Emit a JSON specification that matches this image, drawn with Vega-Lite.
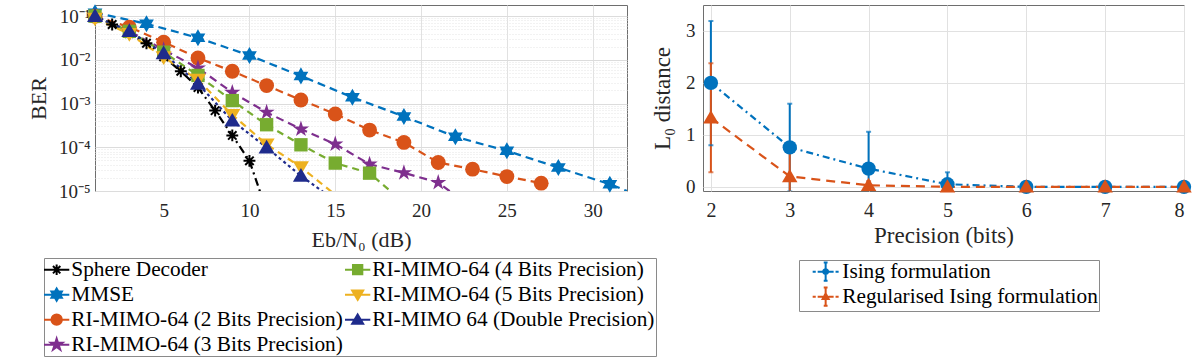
{
  "$schema": "https://vega.github.io/schema/vega-lite/v6.json",
  "autosize": {"type": "pad"},
  "padding": {"left": 26, "top": 3, "right": 0, "bottom": 0},
  "background": "white",
  "config": {
    "font": "Liberation Serif",
    "view": {"stroke": "#6e6e6e", "strokeWidth": 1},
    "axis": {"labelFont": "Liberation Serif", "titleFont": "Liberation Serif", "labelFontSize": 19, "titleFontSize": 22, "labelColor": "#262626", "titleColor": "#262626", "titleFontWeight": "normal", "domain": false, "ticks": false, "gridColor": "#e1e1e1", "gridWidth": 1},
    "legend": {"labelFont": "Liberation Serif", "labelFontSize": 21.3, "labelColor": "#000000", "strokeColor": "#8a8a8a", "fillColor": "#ffffff", "padding": 1, "labelLimit": 500, "rowPadding": 3, "columnPadding": -2, "symbolOffset": 1, "labelOffset": 4, "symbolSize": 121, "symbolStrokeWidth": 2}
  },
  "bounds": "flush",
  "spacing": 76,
  "resolve": {"scale": {"color": "independent", "shape": "independent", "strokeDash": "independent", "stroke": "independent"}},
  "hconcat": [
    {
      "width": 532,
      "height": 186,
      "resolve": {"scale": {"color": "independent", "shape": "independent", "stroke": "independent"}},
      "data": {"values": [
        {"s": "Sphere Decoder", "snr": 1, "ber": 0.1},
        {"s": "Sphere Decoder", "snr": 2, "ber": 0.0646},
        {"s": "Sphere Decoder", "snr": 3, "ber": 0.040},
        {"s": "Sphere Decoder", "snr": 4, "ber": 0.024},
        {"s": "Sphere Decoder", "snr": 5, "ber": 0.0118},
        {"s": "Sphere Decoder", "snr": 6, "ber": 0.00548},
        {"s": "Sphere Decoder", "snr": 7, "ber": 0.00232},
        {"s": "Sphere Decoder", "snr": 8, "ber": 0.00069},
        {"s": "Sphere Decoder", "snr": 9, "ber": 0.000187},
        {"s": "Sphere Decoder", "snr": 10, "ber": 0.000049},
        {"s": "Sphere Decoder", "snr": 11, "ber": 0.0000035},
        {"s": "MMSE", "snr": 1, "ber": 0.12},
        {"s": "MMSE", "snr": 4, "ber": 0.067},
        {"s": "MMSE", "snr": 7, "ber": 0.032},
        {"s": "MMSE", "snr": 10, "ber": 0.0126},
        {"s": "MMSE", "snr": 13, "ber": 0.0043},
        {"s": "MMSE", "snr": 16, "ber": 0.00139},
        {"s": "MMSE", "snr": 19, "ber": 0.000508},
        {"s": "MMSE", "snr": 22, "ber": 0.000174},
        {"s": "MMSE", "snr": 25, "ber": 0.000083},
        {"s": "MMSE", "snr": 28, "ber": 0.0000344},
        {"s": "MMSE", "snr": 31, "ber": 0.0000143},
        {"s": "MMSE", "snr": 34, "ber": 0.0000049},
        {"s": "RI-MIMO-64 (2 Bits Precision)", "snr": 1, "ber": 0.1},
        {"s": "RI-MIMO-64 (2 Bits Precision)", "snr": 3, "ber": 0.056},
        {"s": "RI-MIMO-64 (2 Bits Precision)", "snr": 5, "ber": 0.0254},
        {"s": "RI-MIMO-64 (2 Bits Precision)", "snr": 7, "ber": 0.0111},
        {"s": "RI-MIMO-64 (2 Bits Precision)", "snr": 9, "ber": 0.00548},
        {"s": "RI-MIMO-64 (2 Bits Precision)", "snr": 11, "ber": 0.00258},
        {"s": "RI-MIMO-64 (2 Bits Precision)", "snr": 13, "ber": 0.00121},
        {"s": "RI-MIMO-64 (2 Bits Precision)", "snr": 15, "ber": 0.000577},
        {"s": "RI-MIMO-64 (2 Bits Precision)", "snr": 17, "ber": 0.000248},
        {"s": "RI-MIMO-64 (2 Bits Precision)", "snr": 19, "ber": 0.000129},
        {"s": "RI-MIMO-64 (2 Bits Precision)", "snr": 21, "ber": 0.0000448},
        {"s": "RI-MIMO-64 (2 Bits Precision)", "snr": 23, "ber": 0.0000316},
        {"s": "RI-MIMO-64 (2 Bits Precision)", "snr": 25, "ber": 0.0000214},
        {"s": "RI-MIMO-64 (2 Bits Precision)", "snr": 27, "ber": 0.0000151},
        {"s": "RI-MIMO-64 (3 Bits Precision)", "snr": 1, "ber": 0.1},
        {"s": "RI-MIMO-64 (3 Bits Precision)", "snr": 3, "ber": 0.045},
        {"s": "RI-MIMO-64 (3 Bits Precision)", "snr": 5, "ber": 0.017},
        {"s": "RI-MIMO-64 (3 Bits Precision)", "snr": 7, "ber": 0.0065},
        {"s": "RI-MIMO-64 (3 Bits Precision)", "snr": 9, "ber": 0.0018},
        {"s": "RI-MIMO-64 (3 Bits Precision)", "snr": 11, "ber": 0.00063},
        {"s": "RI-MIMO-64 (3 Bits Precision)", "snr": 13, "ber": 0.00026},
        {"s": "RI-MIMO-64 (3 Bits Precision)", "snr": 15, "ber": 0.000118},
        {"s": "RI-MIMO-64 (3 Bits Precision)", "snr": 17, "ber": 0.000041},
        {"s": "RI-MIMO-64 (3 Bits Precision)", "snr": 19, "ber": 0.000026},
        {"s": "RI-MIMO-64 (3 Bits Precision)", "snr": 21, "ber": 0.0000156},
        {"s": "RI-MIMO-64 (3 Bits Precision)", "snr": 23, "ber": 0.000004},
        {"s": "RI-MIMO-64 (4 Bits Precision)", "snr": 1, "ber": 0.1},
        {"s": "RI-MIMO-64 (4 Bits Precision)", "snr": 3, "ber": 0.045},
        {"s": "RI-MIMO-64 (4 Bits Precision)", "snr": 5, "ber": 0.015},
        {"s": "RI-MIMO-64 (4 Bits Precision)", "snr": 7, "ber": 0.0044},
        {"s": "RI-MIMO-64 (4 Bits Precision)", "snr": 9, "ber": 0.00117},
        {"s": "RI-MIMO-64 (4 Bits Precision)", "snr": 11, "ber": 0.000328},
        {"s": "RI-MIMO-64 (4 Bits Precision)", "snr": 13, "ber": 0.000114},
        {"s": "RI-MIMO-64 (4 Bits Precision)", "snr": 15, "ber": 0.0000435},
        {"s": "RI-MIMO-64 (4 Bits Precision)", "snr": 17, "ber": 0.0000256},
        {"s": "RI-MIMO-64 (4 Bits Precision)", "snr": 19, "ber": 0.0000054},
        {"s": "RI-MIMO-64 (5 Bits Precision)", "snr": 1, "ber": 0.088},
        {"s": "RI-MIMO-64 (5 Bits Precision)", "snr": 3, "ber": 0.0394},
        {"s": "RI-MIMO-64 (5 Bits Precision)", "snr": 5, "ber": 0.0115},
        {"s": "RI-MIMO-64 (5 Bits Precision)", "snr": 7, "ber": 0.0035},
        {"s": "RI-MIMO-64 (5 Bits Precision)", "snr": 9, "ber": 0.00055},
        {"s": "RI-MIMO-64 (5 Bits Precision)", "snr": 11, "ber": 0.000117},
        {"s": "RI-MIMO-64 (5 Bits Precision)", "snr": 13, "ber": 0.000035},
        {"s": "RI-MIMO-64 (5 Bits Precision)", "snr": 16, "ber": 0.000004},
        {"s": "RI-MIMO 64 (Double Precision)", "snr": 1, "ber": 0.1},
        {"s": "RI-MIMO 64 (Double Precision)", "snr": 3, "ber": 0.0453},
        {"s": "RI-MIMO 64 (Double Precision)", "snr": 5, "ber": 0.0142},
        {"s": "RI-MIMO 64 (Double Precision)", "snr": 7, "ber": 0.00282},
        {"s": "RI-MIMO 64 (Double Precision)", "snr": 9, "ber": 0.000406},
        {"s": "RI-MIMO 64 (Double Precision)", "snr": 11, "ber": 0.000099},
        {"s": "RI-MIMO 64 (Double Precision)", "snr": 13, "ber": 0.0000222},
        {"s": "RI-MIMO 64 (Double Precision)", "snr": 15, "ber": 0.000006}
      ]},
      "encoding": {
        "x": {"field": "snr", "type": "quantitative", "scale": {"domain": [1, 32], "nice": false}, "axis": {"values": [5, 10, 15, 20, 25, 30], "title": "Eb/N₀ (dB)", "labelPadding": 10, "titlePadding": 9, "grid": true}},
        "y": {"field": "ber", "type": "quantitative", "scale": {"type": "log", "domain": [0.00001, 0.18], "nice": false}, "axis": {
          "title": "BER", "labelPadding": 5, "titlePadding": 8, "grid": true,
          "values": [0.00001, 0.00002, 0.00003, 0.00004, 0.00005, 0.00006, 0.00007, 0.00008, 0.00009, 0.0001, 0.0002, 0.0003, 0.0004, 0.0005, 0.0006, 0.0007, 0.0008, 0.0009, 0.001, 0.002, 0.003, 0.004, 0.005, 0.006, 0.007, 0.008, 0.009, 0.01, 0.02, 0.03, 0.04, 0.05, 0.06, 0.07, 0.08, 0.09, 0.1],
          "labelExpr": "abs(log(datum.value)/LN10 - round(log(datum.value)/LN10)) < 0.001 ? '10' + ['⁰','⁻¹','⁻²','⁻³','⁻⁴','⁻⁵'][-round(log(datum.value)/LN10)] : ''",
          "gridDash": {"condition": {"test": "abs(log(datum.value)/LN10 - round(log(datum.value)/LN10)) < 0.001", "value": []}, "value": [1, 2]},
          "gridColor": {"condition": {"test": "abs(log(datum.value)/LN10 - round(log(datum.value)/LN10)) < 0.001", "value": "#dcdcdc"}, "value": "#e4e4e4"}
        }}
      },
      "layer": [
        {
          "mark": {"type": "line", "clip": true, "strokeWidth": 2.2},
          "encoding": {
            "color": {"field": "s", "type": "nominal", "legend": null,
              "scale": {"domain": ["Sphere Decoder", "MMSE", "RI-MIMO-64 (2 Bits Precision)", "RI-MIMO-64 (3 Bits Precision)", "RI-MIMO-64 (4 Bits Precision)", "RI-MIMO-64 (5 Bits Precision)", "RI-MIMO 64 (Double Precision)"],
                        "range": ["#000000", "#0072BD", "#D95319", "#7E2F8E", "#77AC30", "#EDB120", "#1F2B8C"]}},
            "strokeDash": {"field": "s", "type": "nominal", "legend": null,
              "scale": {"domain": ["Sphere Decoder", "MMSE", "RI-MIMO-64 (2 Bits Precision)", "RI-MIMO-64 (3 Bits Precision)", "RI-MIMO-64 (4 Bits Precision)", "RI-MIMO-64 (5 Bits Precision)", "RI-MIMO 64 (Double Precision)"],
                        "range": [[8, 4, 2, 4], [8, 5], [8, 5], [8, 5], [7, 5], [7, 5], [3, 3]]}}
          }
        },
        {
          "transform": [{"filter": "datum.s == 'Sphere Decoder' && datum.ber >= 0.00001"}],
          "mark": {"type": "point", "filled": false, "strokeWidth": 2, "size": 220, "opacity": 1},
          "encoding": {
            "color": {"field": "s", "type": "nominal", "legend": null,
              "scale": {"domain": ["Sphere Decoder", "MMSE", "RI-MIMO-64 (2 Bits Precision)", "RI-MIMO-64 (3 Bits Precision)", "RI-MIMO-64 (4 Bits Precision)", "RI-MIMO-64 (5 Bits Precision)", "RI-MIMO 64 (Double Precision)"],
                        "range": ["#000000", "#0072BD", "#D95319", "#7E2F8E", "#77AC30", "#EDB120", "#1F2B8C"]}},
            "shape": {"field": "s", "type": "nominal", "legend": null,
              "scale": {"domain": ["Sphere Decoder", "MMSE", "RI-MIMO-64 (2 Bits Precision)", "RI-MIMO-64 (3 Bits Precision)", "RI-MIMO-64 (4 Bits Precision)", "RI-MIMO-64 (5 Bits Precision)", "RI-MIMO 64 (Double Precision)"],
                        "range": ["M-0.8,0L0.8,0M0,-0.8L0,0.8M-0.57,-0.57L0.57,0.57M-0.57,0.57L0.57,-0.57", "M0,-1.15L0.332,-0.575L0.996,-0.575L0.664,0L0.996,0.575L0.332,0.575L0,1.15L-0.332,0.575L-0.996,0.575L-0.664,0L-0.996,-0.575L-0.332,-0.575Z", "circle", "M0,-1.15L0.258,-0.355L1.094,-0.355L0.417,0.136L0.676,0.93L0,0.439L-0.676,0.93L-0.417,0.136L-1.094,-0.355L-0.258,-0.355Z", "M-0.9,-0.9H0.9V0.9H-0.9Z", "M0,1.05L1.08,-0.8L-1.08,-0.8Z", "M0,-1.05L1.08,0.8L-1.08,0.8Z"]}}
          }
        },
        {
          "transform": [{"filter": "datum.s != 'Sphere Decoder' && datum.ber >= 0.00001 && datum.snr <= 32"}],
          "mark": {"type": "point", "filled": true, "size": 220, "opacity": 1},
          "encoding": {
            "color": {"field": "s", "type": "nominal", "legend": null,
              "scale": {"domain": ["Sphere Decoder", "MMSE", "RI-MIMO-64 (2 Bits Precision)", "RI-MIMO-64 (3 Bits Precision)", "RI-MIMO-64 (4 Bits Precision)", "RI-MIMO-64 (5 Bits Precision)", "RI-MIMO 64 (Double Precision)"],
                        "range": ["#000000", "#0072BD", "#D95319", "#7E2F8E", "#77AC30", "#EDB120", "#1F2B8C"]}},
            "shape": {"field": "s", "type": "nominal", "legend": null,
              "scale": {"domain": ["Sphere Decoder", "MMSE", "RI-MIMO-64 (2 Bits Precision)", "RI-MIMO-64 (3 Bits Precision)", "RI-MIMO-64 (4 Bits Precision)", "RI-MIMO-64 (5 Bits Precision)", "RI-MIMO 64 (Double Precision)"],
                        "range": ["M-0.8,0L0.8,0M0,-0.8L0,0.8M-0.57,-0.57L0.57,0.57M-0.57,0.57L0.57,-0.57", "M0,-1.15L0.332,-0.575L0.996,-0.575L0.664,0L0.996,0.575L0.332,0.575L0,1.15L-0.332,0.575L-0.996,0.575L-0.664,0L-0.996,-0.575L-0.332,-0.575Z", "circle", "M0,-1.15L0.258,-0.355L1.094,-0.355L0.417,0.136L0.676,0.93L0,0.439L-0.676,0.93L-0.417,0.136L-1.094,-0.355L-0.258,-0.355Z", "M-0.9,-0.9H0.9V0.9H-0.9Z", "M0,1.05L1.08,-0.8L-1.08,-0.8Z", "M0,-1.05L1.08,0.8L-1.08,0.8Z"]}}
          }
        },
        {
          "transform": [{"filter": "false"}],
          "mark": {"type": "point", "filled": true, "size": 121, "opacity": 1, "strokeWidth": 2},
          "encoding": {
            "color": {"field": "s", "type": "nominal",
              "scale": {"domain": ["Sphere Decoder", "MMSE", "RI-MIMO-64 (2 Bits Precision)", "RI-MIMO-64 (3 Bits Precision)", "RI-MIMO-64 (4 Bits Precision)", "RI-MIMO-64 (5 Bits Precision)", "RI-MIMO 64 (Double Precision)"],
                        "range": ["#000000", "#0072BD", "#D95319", "#7E2F8E", "#77AC30", "#EDB120", "#1F2B8C"]},
              "legend": {"orient": "none", "legendX": -51, "legendY": 253, "columns": 2, "title": null, "direction": "vertical"}},
            "stroke": {"field": "s", "type": "nominal",
              "scale": {"domain": ["Sphere Decoder", "MMSE", "RI-MIMO-64 (2 Bits Precision)", "RI-MIMO-64 (3 Bits Precision)", "RI-MIMO-64 (4 Bits Precision)", "RI-MIMO-64 (5 Bits Precision)", "RI-MIMO 64 (Double Precision)"],
                        "range": ["#000000", "#0072BD", "#D95319", "#7E2F8E", "#77AC30", "#EDB120", "#1F2B8C"]},
              "legend": {"orient": "none", "legendX": -51, "legendY": 253, "columns": 2, "title": null, "direction": "vertical"}},
            "shape": {"field": "s", "type": "nominal",
              "scale": {"domain": ["Sphere Decoder", "MMSE", "RI-MIMO-64 (2 Bits Precision)", "RI-MIMO-64 (3 Bits Precision)", "RI-MIMO-64 (4 Bits Precision)", "RI-MIMO-64 (5 Bits Precision)", "RI-MIMO 64 (Double Precision)"],
                        "range": ["M-2.3,0H2.3M0,-0.95L0,0.95M-0.67,-0.67L0.67,0.67M-0.67,0.67L0.67,-0.67", "M-2.3,0H2.3M0,-1.1L0.318,-0.55L0.953,-0.55L0.635,0L0.953,0.55L0.318,0.55L0,1.1L-0.318,0.55L-0.953,0.55L-0.635,0L-0.953,-0.55L-0.318,-0.55Z", "M-2.3,0H2.3M0.95,0A0.95,0.95 0 1 1 -0.95,0A0.95,0.95 0 1 1 0.95,0Z", "M-2.3,0H2.3M0,-1.1L0.247,-0.34L1.046,-0.34L0.4,0.13L0.647,0.89L0,0.42L-0.647,0.89L-0.4,0.13L-1.046,-0.34L-0.247,-0.34Z", "M-2.3,0H2.3M-0.85,-0.85H0.85V0.85H-0.85Z", "M-2.3,0H2.3M0,0.95L1.0,-0.75L-1.0,-0.75Z", "M-2.3,0H2.3M0,-0.95L1.0,0.75L-1.0,0.75Z"]},
              "legend": {"orient": "none", "legendX": -51, "legendY": 253, "columns": 2, "title": null, "direction": "vertical"}}
          }
        }
      ]
    },
    {
      "width": 481,
      "height": 186,
      "resolve": {"scale": {"color": "independent", "shape": "independent", "stroke": "independent"}},
      "data": {"values": [
        {"f": "Ising formulation", "p": 2, "m": 2.0, "lo": 0.8, "hi": 3.19},
        {"f": "Ising formulation", "p": 3, "m": 0.76, "lo": -0.09, "hi": 1.6},
        {"f": "Ising formulation", "p": 4, "m": 0.35, "lo": -0.37, "hi": 1.06},
        {"f": "Ising formulation", "p": 5, "m": 0.05, "lo": -0.18, "hi": 0.28},
        {"f": "Ising formulation", "p": 6, "m": 0.0, "lo": 0.0, "hi": 0.0},
        {"f": "Ising formulation", "p": 7, "m": 0.0, "lo": 0.0, "hi": 0.0},
        {"f": "Ising formulation", "p": 8, "m": 0.0, "lo": 0.0, "hi": 0.0},
        {"f": "Regularised Ising formulation", "p": 2, "m": 1.33, "lo": 0.28, "hi": 2.38},
        {"f": "Regularised Ising formulation", "p": 3, "m": 0.2, "lo": -0.25, "hi": 0.65},
        {"f": "Regularised Ising formulation", "p": 4, "m": 0.03, "lo": -0.05, "hi": 0.11},
        {"f": "Regularised Ising formulation", "p": 5, "m": 0.0, "lo": 0.0, "hi": 0.0},
        {"f": "Regularised Ising formulation", "p": 6, "m": 0.0, "lo": 0.0, "hi": 0.0},
        {"f": "Regularised Ising formulation", "p": 7, "m": 0.0, "lo": 0.0, "hi": 0.0},
        {"f": "Regularised Ising formulation", "p": 8, "m": 0.0, "lo": 0.0, "hi": 0.0}
      ]},
      "encoding": {
        "x": {"field": "p", "type": "quantitative", "scale": {"domain": [1.9, 8], "nice": false}, "axis": {"values": [2, 3, 4, 5, 6, 7, 8], "title": "Precision (bits)", "labelPadding": 9, "titlePadding": 4, "grid": true, "labelFontSize": 20, "titleFontSize": 23}},
        "color": {"field": "f", "type": "nominal", "legend": null, "scale": {"domain": ["Ising formulation", "Regularised Ising formulation"], "range": ["#0072BD", "#D95319"]}}
      },
      "layer": [
        {
          "mark": {"type": "line", "clip": true, "strokeWidth": 2.2},
          "encoding": {
            "y": {"field": "m", "type": "quantitative", "scale": {"domain": [-0.08, 3.5], "nice": false}, "axis": {"values": [0, 1, 2, 3], "title": "L₀ distance", "labelPadding": 8, "titlePadding": 11, "grid": true, "titleFontSize": 23}},
            "strokeDash": {"field": "f", "type": "nominal", "legend": null, "scale": {"domain": ["Ising formulation", "Regularised Ising formulation"], "range": [[7, 4, 2, 4], [9, 6]]}}
          }
        },
        {
          "mark": {"type": "rule", "clip": true, "strokeWidth": 2},
          "encoding": {"y": {"field": "lo", "type": "quantitative"}, "y2": {"field": "hi"}}
        },
        {
          "mark": {"type": "tick", "clip": true, "orient": "horizontal", "size": 5, "thickness": 2},
          "encoding": {"y": {"field": "lo", "type": "quantitative"}}
        },
        {
          "mark": {"type": "tick", "clip": true, "orient": "horizontal", "size": 5, "thickness": 2},
          "encoding": {"y": {"field": "hi", "type": "quantitative"}}
        },
        {
          "mark": {"type": "point", "filled": true, "size": 205, "opacity": 1},
          "encoding": {
            "y": {"field": "m", "type": "quantitative"},
            "shape": {"field": "f", "type": "nominal", "legend": null, "scale": {"domain": ["Ising formulation", "Regularised Ising formulation"], "range": ["circle", "M0,-1.05L1.08,0.8L-1.08,0.8Z"]}}
          }
        },
        {
          "transform": [{"filter": "false"}],
          "mark": {"type": "point", "filled": true, "size": 121, "opacity": 1, "strokeWidth": 2},
          "encoding": {
            "y": {"field": "m", "type": "quantitative"},
            "color": {"field": "f", "type": "nominal", "scale": {"domain": ["Ising formulation", "Regularised Ising formulation"], "range": ["#0072BD", "#D95319"]},
              "legend": {"orient": "none", "legendX": 96, "legendY": 255, "title": null, "direction": "vertical", "symbolOffset": 15, "labelOffset": 6, "rowPadding": -2, "labelExpr": "datum.label + '\u00a0\u00a0\u00a0'"}},
            "stroke": {"field": "f", "type": "nominal", "scale": {"domain": ["Ising formulation", "Regularised Ising formulation"], "range": ["#0072BD", "#D95319"]},
              "legend": {"orient": "none", "legendX": 96, "legendY": 255, "title": null, "direction": "vertical", "symbolOffset": 15, "labelOffset": 6, "rowPadding": -2, "labelExpr": "datum.label + '\u00a0\u00a0\u00a0'"}},
            "shape": {"field": "f", "type": "nominal", "scale": {"domain": ["Ising formulation", "Regularised Ising formulation"], "range": ["M-2.36,0H-1.8M-1.45,0H-0.5M0.5,0H1.45M1.8,0H2.36M0,-1.67V1.67M-0.35,-1.67H0.35M-0.35,1.67H0.35M0.45,0A0.45,0.45 0 1 1 -0.45,0A0.45,0.45 0 1 1 0.45,0Z", "M-2.36,0H-1.8M-1.45,0H-0.5M0.5,0H1.45M1.8,0H2.36M0,-1.67V1.67M-0.35,-1.67H0.35M-0.35,1.67H0.35M0,-0.6L0.55,0.42L-0.55,0.42Z"]},
              "legend": {"orient": "none", "legendX": 96, "legendY": 255, "title": null, "direction": "vertical", "symbolOffset": 15, "labelOffset": 6, "rowPadding": -2, "labelExpr": "datum.label + '\u00a0\u00a0\u00a0'"}}
          }
        }
      ]
    }
  ]
}
